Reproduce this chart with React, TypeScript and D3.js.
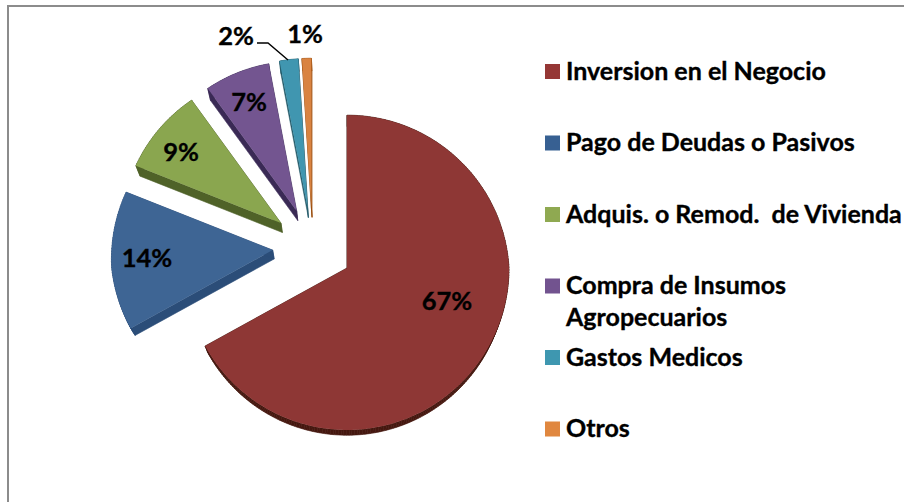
import React from 'react';
import * as d3 from 'd3';

const categories = [
  'Inversion en el Negocio',
  'Pago de Deudas o Pasivos',
  'Adquis. o Remod.  de Vivienda',
  'Compra de Insumos|Agropecuarios',
  'Gastos Medicos',
  'Otros',
];
const shares = [67, 14, 9, 7, 2, 1];
const shareLabels = ['67%', '14%', '9%', '7%', '2%', '1%'];

const topColors = ['#8e3735', '#3e6594', '#8aa64f', '#735590', '#4096b0', '#d98341'];
const wallColors = ['#45170f', '#2b4d78', '#4f6228', '#3a2a55', '#215968', '#974806'];
const swatchColors = ['#953735', '#376092', '#8fa951', '#72538f', '#3e97b0', '#e0873f'];

// where the pie labels sit
const labelSpots = [[447, 301], [147, 258], [181, 152], [249, 102], [236, 36], [305, 34]];

const FONT = 'Lato, sans-serif';

// pie geometry, all slices pulled out from a shared centre
const baseX = 312.6;
const baseY = 247.6;
const explode = 40;
const radius = 162;
const pivotX = 347;
const pivotY = 268;

const toRim = (apexX: number, apexY: number, a: number): [number, number] => {
  const flatY = apexY - radius * Math.cos(a);
  const s = 1 + 0.00035 * Math.min(0, flatY - pivotY);
  return [apexX + radius * s * Math.sin(a), apexY - radius * s * Math.cos(a)];
};

// the underside is the top face shrunk a little and dropped
const toBottom = ([x, y]: [number, number]): [number, number] => [
  pivotX + (x - pivotX) * 0.98,
  pivotY + (y - pivotY) * 0.98 + 8.5,
];

const pie = d3.pie<number>().sort(null).startAngle(0).endAngle(2 * Math.PI);
const line = d3.line();

const buildSlice = (arc: d3.PieArcDatum<number>) => {
  const mid = (arc.startAngle + arc.endAngle) / 2;
  const apexX = baseX + explode * Math.sin(mid);
  const apexY = baseY - explode * Math.cos(mid);
  const angles = d3.range(0, 1.0001, 1 / Math.max(4, Math.ceil((arc.endAngle - arc.startAngle) * 60)))
    .map((t) => arc.startAngle + t * (arc.endAngle - arc.startAngle));
  const rim = angles.map((a) => toRim(apexX, apexY, a));
  const outline: [number, number][] = [[apexX, apexY], ...rim];
  return { index: arc.index, outline };
};

const slices = pie(shares).map(buildSlice);

const legendY = d3.scalePoint<string>()
  .domain(categories)
  .range([71.5, 429]);

const Wall = ({ outline, color }: { outline: [number, number][]; color: string }) => (
  <g fill={color} stroke={color} strokeWidth={0.6}>
    {outline.map((p, i) => {
      const q = outline[(i + 1) % outline.length];
      return <path key={i} d={line([p, q, toBottom(q), toBottom(p)]) + 'Z'} />;
    })}
  </g>
);

export default function App() {
  const drawOrder = [...slices].reverse();
  return (
    <svg
      width={904}
      height={502}
      style={{ position: 'absolute', left: 0, top: 0, background: '#fff' }}
      fontFamily={FONT}
      fontWeight={700}
    >
      <path d="M8 502V6H904" fill="none" stroke="#8c8c8c" strokeWidth={2} />

      {drawOrder.map((s) => (
        <g key={s.index}>
          <Wall outline={s.outline} color={wallColors[s.index]} />
          <path d={line(s.outline) + 'Z'} fill={topColors[s.index]} />
        </g>
      ))}

      <path d="M257 43H268L288 60" fill="none" stroke="#000" strokeWidth={1.4} />

      {shareLabels.map((t, i) => (
        <text key={t} x={labelSpots[i][0]} y={labelSpots[i][1]} dy="0.36em" textAnchor="middle" fontSize={25.5} fill="#000" stroke="#000" strokeWidth={0.35}>
          {t}
        </text>
      ))}

      {categories.map((c, i) => {
        const y = legendY(c) as number;
        return (
          <g key={c}>
            <rect x={545} y={y - 7.5} width={15} height={15} fill={swatchColors[i]} />
            {c.split('|').map((part, j) => (
              <text key={part} x={566} y={y + 8 + j * 32} fontSize={25} fill="#000" stroke="#000" strokeWidth={0.35} xmlSpace="preserve">
                {part}
              </text>
            ))}
          </g>
        );
      })}
    </svg>
  );
}
